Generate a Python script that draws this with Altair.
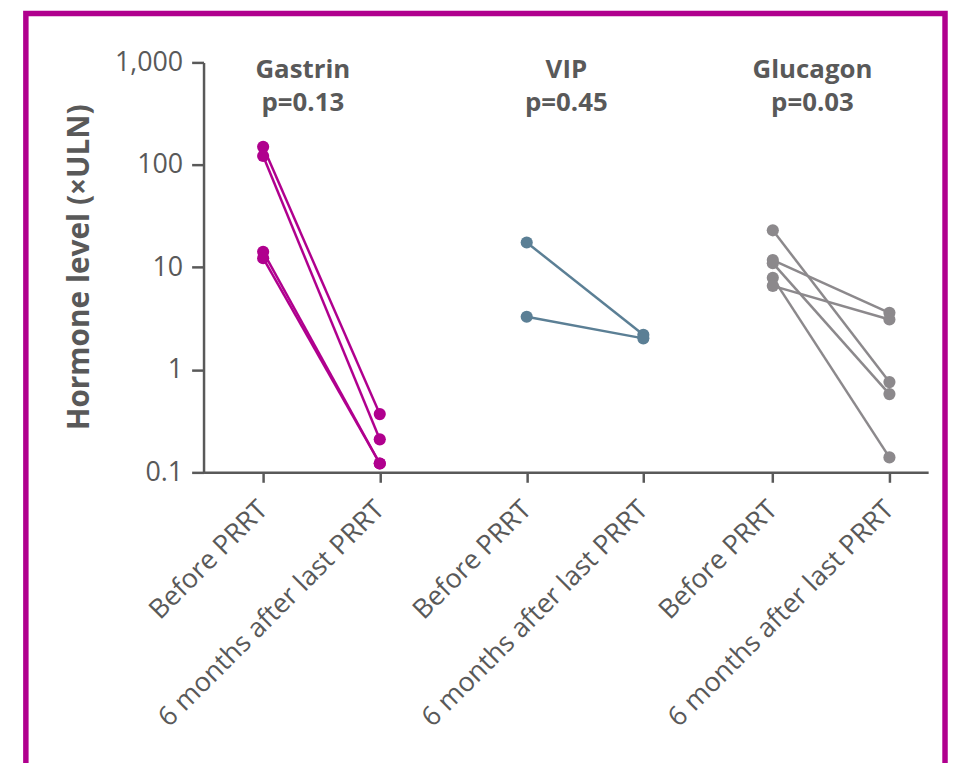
import altair as alt
import pandas as pd

# ---- data ----
groups = ["Gastrin", "VIP", "Glucagon"]
p_values = ["0.13", "0.45", "0.03"]
timepoints = ["Before PRRT", "6 months after last PRRT"]

gastrin_before = [150, 122, 14.2, 12.3]
gastrin_after = [0.37, 0.21, 0.122, 0.122]
vip_before = [17.5, 3.3]
vip_after = [2.2, 2.03]
glucagon_before = [23, 11.8, 11.0, 7.9, 6.6]
glucagon_after = [0.76, 3.6, 0.58, 0.14, 3.1]

y_ticks = [0.1, 1, 10, 100, 1000]

# ---- styling / layout ----
colors = ["#B0008E", "#5B7F95", "#8C898C"]
text_color = "#595959"
axis_color = "#595959"
group_pos = [1.0, 3.26, 5.37]  # x position of each group's "before" column

series = [(gastrin_before, gastrin_after), (vip_before, vip_after), (glucagon_before, glucagon_after)]
rows = []
for gi, (bef, aft) in enumerate(series):
    for si, (b, a) in enumerate(zip(bef, aft)):
        for t, v in enumerate((b, a)):
            rows.append({"group": groups[gi], "id": f"{groups[gi]}-{si}",
                         "pos": group_pos[gi] + t, "value": v})
df = pd.DataFrame(rows)

title_df = pd.DataFrame({
    "pos": [p + 0.34 for p in group_pos],
    "text": [f"{g}\np={p}" for g, p in zip(groups, p_values)],
})

tick_positions = []
for p in group_pos:
    tick_positions += [p, p + 1]
before_list = "[" + ",".join(str(p) for p in group_pos) + "]"
label_expr = f"indexof({before_list}, datum.value) >= 0 ? '{timepoints[0]}' : '{timepoints[1]}'"

x_enc = alt.X(
    "pos:Q",
    scale=alt.Scale(domain=[0.489, 6.702], nice=False, zero=False),
    axis=alt.Axis(
        values=tick_positions, labelExpr=label_expr, title=None, grid=False,
        labelAngle=-45, labelAlign="right", labelBaseline="middle", labelPadding=23,
        labelOverlap=False, labelBound=False, labelFlush=False, labelLimit=0,
        tickSize=10, tickWidth=2.5, domainWidth=2.5,
        domainColor=axis_color, tickColor=axis_color,
        labelColor=text_color, labelFont="Open Sans", labelFontSize=27,
    ),
)
y_enc = alt.Y(
    "value:Q",
    scale=alt.Scale(type="log", domain=[0.1, 1000], nice=False),
    axis=alt.Axis(
        values=y_ticks, labelExpr="format(datum.value, ',')", grid=False,
        title="Hormone level (×ULN)", titleFont="Open Sans", titleFontWeight="bold",
        titleFontSize=30, titleColor=text_color, titleAngle=-90,
        titleX=-125, titleY=206, titleAlign="center", titleBaseline="middle",
        tickSize=12, tickWidth=2.5, domainWidth=2.5,
        domainColor=axis_color, tickColor=axis_color, labelPadding=9,
        labelColor=text_color, labelFont="Open Sans", labelFontSize=27,
    ),
)
color_enc = alt.Color("group:N", scale=alt.Scale(domain=groups, range=colors), legend=None)

base = alt.Chart(df)
lines = base.mark_line(strokeWidth=2.5).encode(x=x_enc, y=y_enc, detail="id:N", color=color_enc)
points = base.mark_circle(size=150, opacity=1).encode(x=x_enc, y=y_enc, color=color_enc)

titles = alt.Chart(title_df).mark_text(
    font="Open Sans", fontWeight="bold", fontSize=26, color=text_color,
    lineBreak="\n", lineHeight=33, baseline="alphabetic", align="center",
).encode(x=alt.X("pos:Q"), y=alt.value(16), text="text:N")

border = alt.Chart(alt.Data(values=[{}])).mark_rect(
    fillOpacity=0, stroke="#B0008E", strokeWidth=5.5
).encode(x=alt.value(-179), x2=alt.value(747), y=alt.value(-49.25), y2=alt.value(760))

chart = alt.layer(border, lines, points, titles).properties(
    width=730, height=413,
    autosize=alt.AutoSizeParams(type="none"),
    padding={"left": 197, "top": 52, "right": 20, "bottom": 290},
).configure_view(strokeWidth=0)

chart.save("out.html", embed_options={"renderer": "svg", "actions": False})
